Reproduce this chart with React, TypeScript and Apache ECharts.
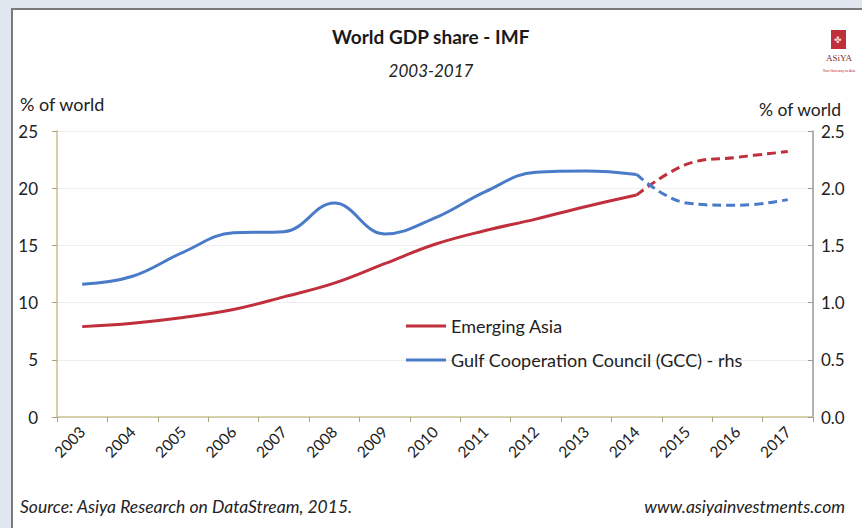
import React, { useEffect, useRef } from "react";
import * as echarts from "echarts";

const years = ["2003","2004","2005","2006","2007","2008","2009","2010","2011","2012","2013","2014","2015","2016","2017"];
const asiaActual = [7.9, 8.2, 8.7, 9.4, 10.5, 11.7, 13.4, 15.1, 16.3, 17.3, 18.4, 19.4, null, null, null];
const asiaForecast = [null, null, null, null, null, null, null, null, null, null, null, 19.4, 22.1, 22.7, 23.2];
const gccActual = [1.16, 1.23, 1.44, 1.61, 1.62, 1.87, 1.6, 1.74, 1.97, 2.14, 2.15, 2.12, null, null, null];
const gccForecast = [null, null, null, null, null, null, null, null, null, null, null, 2.12, 1.87, 1.85, 1.9];
const leftTicks = { min: 0, max: 25, interval: 5 };
const rightTicks = { min: 0, max: 2.5, interval: 0.5 };

const RED = "#c0303c";
const BLUE = "#4a7bc8";
const FONT = "Lato";

export default function App() {
  const ref = useRef<HTMLDivElement>(null);
  useEffect(() => {
    document.body.style.margin = "0";
    const chart = echarts.init(ref.current!, null, { renderer: "svg" });
    chart.setOption({
      animation: false,
      backgroundColor: "#e0e7ef",
      textStyle: { fontFamily: FONT },
      grid: { left: 57, right: 49, top: 131, bottom: 111, containLabel: false },
      graphic: [
        { type: "rect", z: -10, shape: { x: 12, y: 9, width: 860, height: 530 }, style: { fill: "#ffffff", stroke: "#7a7a7a", lineWidth: 2 } },
        { type: "text", left: "center", top: 27, style: { text: "World GDP share - IMF", font: `bold 19px ${FONT}`, fill: "#1a1a1a" } },
        { type: "text", left: "center", top: 62, style: { text: "2003-2017", font: `italic 17px ${FONT}`, fill: "#222" } },
        { type: "text", x: 20, y: 95, style: { text: "% of world", font: `18px ${FONT}`, fill: "#222" } },
        { type: "text", x: 759, y: 100, style: { text: "% of world", font: `17.5px ${FONT}`, fill: "#222" } },
        { type: "text", x: 20, y: 497, style: { text: "Source: Asiya Research on DataStream, 2015.", font: `italic 17.5px ${FONT}`, fill: "#222" } },
        { type: "text", x: 845, y: 497, style: { text: "www.asiyainvestments.com", font: `italic 17.5px ${FONT}`, fill: "#222", align: "right" } },
        { type: "rect", shape: { x: 831, y: 30, width: 15, height: 19 }, style: { fill: "#c0303c" } },
        { type: "text", x: 838, y: 35, style: { text: "✤", font: `9px sans-serif`, fill: "#f4dede", align: "center" } },
        { type: "text", x: 839, y: 53, style: { text: "ASiYA", font: `9px serif`, fill: "#7a2a2a", align: "center" } },
        { type: "text", x: 839, y: 69, style: { text: "Your Gateway to Asia", font: `3.5px ${FONT}`, fill: "#c0303c", align: "center" } },
      ],
      legend: {
        orient: "vertical",
        left: 401,
        top: 312,
        itemGap: 16,
        itemWidth: 40,
        itemHeight: 3,
        icon: "rect",
        textStyle: { fontFamily: FONT, fontSize: 18, color: "#222" },
        data: [
          { name: "Emerging Asia", itemStyle: { color: RED } },
          { name: "Gulf Cooperation Council (GCC) - rhs", itemStyle: { color: BLUE } },
        ],
      },
      xAxis: {
        type: "category",
        data: years,
        boundaryGap: true,
        axisLine: { lineStyle: { color: "#c8c28e", width: 1.5 } },
        axisTick: { show: true, alignWithLabel: false, length: 5, lineStyle: { color: "#a8a07a" } },
        axisLabel: { rotate: 45, fontSize: 15.5, color: "#222", fontFamily: FONT, margin: 12 },
      },
      yAxis: [
        {
          type: "value",
          ...leftTicks,
          axisLine: { show: true, lineStyle: { color: "#c8c28e", width: 1.5 } },
          axisTick: { show: true, length: 5, lineStyle: { color: "#a8a07a" } },
          axisLabel: { fontSize: 17, color: "#222", fontFamily: FONT, margin: 19 },
          splitLine: { lineStyle: { color: "#eeeeee" } },
        },
        {
          type: "value",
          ...rightTicks,
          position: "right",
          axisLine: { show: true, lineStyle: { color: "#9a9a9a", width: 1.5 } },
          axisTick: { show: true, inside: true, length: 5, lineStyle: { color: "#9a9a9a" } },
          axisLabel: { fontSize: 17, color: "#222", fontFamily: FONT, margin: 8, formatter: (v: number) => v.toFixed(1) },
          splitLine: { show: false },
        },
      ],
      series: [
        { name: "Emerging Asia", type: "line", yAxisIndex: 0, data: asiaActual, smooth: 0.4, showSymbol: false, symbol: "none", lineStyle: { color: RED, width: 3 }, itemStyle: { color: RED } },
        { name: "Emerging Asia (forecast)", type: "line", yAxisIndex: 0, data: asiaForecast, smooth: 0.4, showSymbol: false, symbol: "none", lineStyle: { color: RED, width: 3, type: [9, 5] }, itemStyle: { color: RED } },
        { name: "Gulf Cooperation Council (GCC) - rhs", type: "line", yAxisIndex: 1, data: gccActual, smooth: 0.4, showSymbol: false, symbol: "none", lineStyle: { color: BLUE, width: 3 }, itemStyle: { color: BLUE } },
        { name: "GCC (forecast)", type: "line", yAxisIndex: 1, data: gccForecast, smooth: 0.4, showSymbol: false, symbol: "none", lineStyle: { color: BLUE, width: 3, type: [9, 5] }, itemStyle: { color: BLUE } },
      ],
    });
    return () => chart.dispose();
  }, []);
  return <div ref={ref} style={{ position: "absolute", left: 0, top: 0, width: 862, height: 528 }} />;
}
